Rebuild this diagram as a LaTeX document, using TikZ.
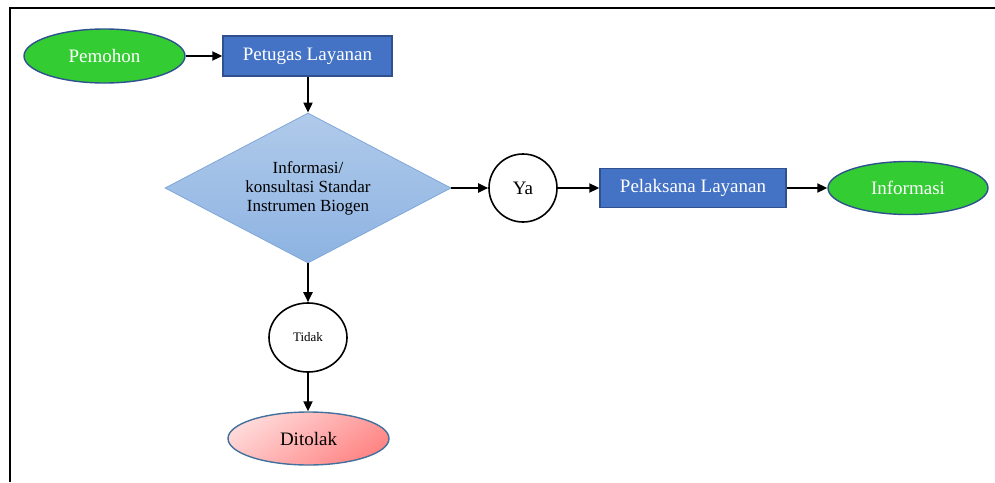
\documentclass[tikz,border=0pt]{standalone}
\usepackage{fontspec}
\setmainfont{Liberation Serif}
\usetikzlibrary{shapes.geometric,arrows.meta}
\definecolor{grn}{HTML}{33CC33}
\definecolor{bdr}{HTML}{2F528F}
\definecolor{boxblue}{HTML}{4472C4}
\definecolor{dtop}{HTML}{B0CAEA}
\definecolor{dbot}{HTML}{8DB3E2}
\definecolor{dline}{HTML}{7FA7D9}
\definecolor{pinkA}{HTML}{FFD9D9}
\definecolor{pinkB}{HTML}{FF8585}
\definecolor{pbdr}{HTML}{41719C}
\tikzset{
  x=1pt, y=-1pt,
  bigtxt/.style={font=\fontsize{19}{22}\selectfont},
  greenell/.style={ellipse, draw=bdr, line width=1.4pt, fill=grn, text=white, bigtxt, minimum width=161pt, minimum height=54pt, inner sep=0pt},
  bluebox/.style={rectangle, draw=bdr, line width=1.4pt, fill=boxblue, text=white, bigtxt, inner sep=0pt},
  decision/.style={diamond, draw=dline, line width=0.8pt, top color=dtop, bottom color=dbot, minimum width=286pt, minimum height=150pt, inner sep=0pt, shape aspect=1.9},
  dectext/.style={align=center, font=\fontsize{17}{19}\selectfont, inner sep=0pt},
  answer/.style={ellipse, draw=black, line width=1.6pt, fill=white, inner sep=0pt},
  flow/.style={draw=black, line width=2pt, -{Triangle[length=10pt,width=9pt]}},
}
\begin{document}
\begin{tikzpicture}
\useasboundingbox (0,0) rectangle (995,482);
% frame
\draw[line width=1.8pt] (10,482) -- (10,8) -- (996,8);

\node[greenell] (pem) at (104.5,56) {Pemohon};
\node[bluebox, minimum width=169pt, minimum height=40pt] (pet) at (307.5,56) {Petugas Layanan};
\node[decision] (dec) at (308,188) {};
\node[dectext] (dectxt) at (dec.center) {Informasi/\\konsultasi Standar\\Instrumen Biogen};
\node[answer, minimum width=68pt, minimum height=68pt, bigtxt] (ya) at (523,188) {Ya};
\node[bluebox, minimum width=186pt, minimum height=39pt] (pel) at (693,188) {Pelaksana Layanan};
\node[greenell, minimum width=160pt, minimum height=53pt] (inf) at (908,188) {Informasi};
\node[answer, minimum width=78pt, minimum height=69pt, font=\fontsize{13}{15}\selectfont] (tdk) at (308,337.5) {Tidak};
\node[ellipse, draw=pbdr, line width=1.4pt, top color=pinkA, bottom color=pinkB, shading angle=35, minimum width=161pt, minimum height=53pt, inner sep=0pt, bigtxt] (tol) at (308.5,438.5) {Ditolak};

\draw[flow] (pem.east) -- (pem.east -| pet.west);
\draw[flow] (pet.south -| dec.north) -- (dec.north);
\draw[flow] (dec.east) -- (ya.west);
\draw[flow] (ya.east) -- (ya.east -| pel.west);
\draw[flow] (pel.east) -- (pel.east -| inf.west);
\draw[flow] (dec.south) -- (dec.south |- tdk.north);
\draw[flow] (tdk.south) -- (tdk.south |- tol.north);
\end{tikzpicture}
\end{document}
